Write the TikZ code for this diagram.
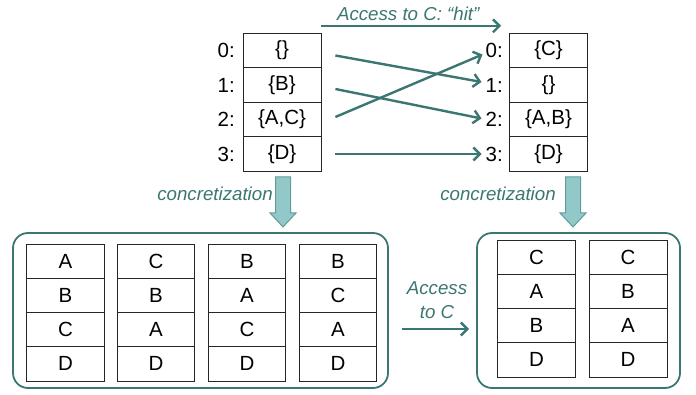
\documentclass[tikz,border=0pt]{standalone}
\usepackage{fontspec}
\setmainfont{Liberation Sans}
\usetikzlibrary{arrows.meta}
\definecolor{teal1}{HTML}{3B7673}
\definecolor{bfill}{HTML}{93C8C8}
\definecolor{bline}{HTML}{5F9C9C}
\tikzset{
  x=1pt,y=-1pt,
  cell/.style={draw=black!85,line width=0.8pt,minimum width=78pt,minimum height=34.5pt,inner sep=0pt,font=\fontsize{20.5}{23}\selectfont},
  idx/.style={inner sep=1pt,font=\fontsize{20.5}{23}\selectfont},
  lab/.style={text=teal1,font=\fontsize{18.7}{21}\selectfont\itshape},
  conn/.style={draw=teal1,line width=2.4pt,-{Straight Barb[length=6.5pt,width=13pt,line width=2.4pt]}},
  bigbox/.style={draw=teal1,line width=1.8pt,rounded corners=15pt},
  blk/.style={fill=bfill,draw=bline,line width=1pt}
}
\begin{document}
\begin{tikzpicture}
\useasboundingbox (0,0) rectangle (696,395);
% top tables
\foreach \t/\i in {{\{\}}/0,{\{B\}}/1,{\{A,C\}}/2,{\{D\}}/3}{
  \node[cell] (L\i) at (282,{50.5+34.5*\i}) {\t};
  \node[idx,anchor=east] (LL\i) at (236,{50.5+34.5*\i}) {\i:};
}
\foreach \t/\i in {{\{C\}}/0,{\{\}}/1,{\{A,B\}}/2,{\{D\}}/3}{
  \node[cell] (R\i) at (548.5,{50.5+34.5*\i}) {\t};
  \node[idx,anchor=east] (RL\i) at (504,{50.5+34.5*\i}) {\i:};
}
% crossing arrows
\draw[conn] ([xshift=14pt,yshift=-5pt]L0.east) -- ([xshift=-3pt,yshift=3pt]RL1.west);
\draw[conn] ([xshift=14pt,yshift=-4pt]L1.east) -- ([xshift=-3pt,yshift=1pt]RL2.west);
\draw[conn] ([xshift=14pt,yshift=2.5pt]L2.east) -- ([xshift=-2pt,yshift=-4pt]RL0.west);
\draw[conn] ([xshift=14pt]L3.east) -- ([xshift=-3pt]RL3.west);
% top arrow
\coordinate (ta) at ([yshift=7pt]L0.north east);
\coordinate (tb) at ([xshift=-8pt,yshift=7pt]R0.north west);
\draw[conn] (ta) -- (tb) node[lab,midway,above=1pt,xshift=-3pt] (acc) {Access to C: “hit”};
% block arrows
\foreach \c/\n in {283/l,573/r}{
  \draw[blk] (\c-7.5,177) -- (\c+7.5,177) -- (\c+7.5,213) -- (\c+13,213) -- (\c,227) -- (\c-13,213) -- (\c-7.5,213) -- cycle;
}
\node[lab] (cl) at (215,194) {concretization};
\node[lab] (cr) at (498,194) {concretization};
% big boxes
\node[bigbox,minimum width=375pt,minimum height=155pt] (BL) at (200.5,310.5) {};
\node[bigbox,minimum width=203pt,minimum height=155pt] (BR) at (578.5,310.5) {};
% left inner tables
\foreach \col/\x in {{A,B,C,D}/65.5,{C,B,A,D}/156,{B,A,C,D}/247,{B,C,A,D}/338}{
  \foreach \v [count=\k from 0] in \col {
    \node[cell,minimum width=77.5pt,minimum height=34.25pt] (c\x-\k) at (\x,{261.1+34.25*\k}) {\v};
  }
}
% right inner tables
\foreach \col/\x in {{C,A,B,D}/536.5,{C,B,A,D}/628}{
  \foreach \v [count=\k from 0] in \col {
    \node[cell,minimum width=78pt,minimum height=34.25pt] (d\x-\k) at (\x,{257.1+34.25*\k}) {\v};
  }
}
% access arrow
\draw[conn] ([xshift=13pt,yshift=-18.5pt]BL.east) -- ([xshift=-7pt,yshift=-18.5pt]BR.west);
\node[lab,align=center,font=\fontsize{18.7}{24}\selectfont\itshape] (a2) at (437,300) {Access\\to C};
\end{tikzpicture}
\end{document}
